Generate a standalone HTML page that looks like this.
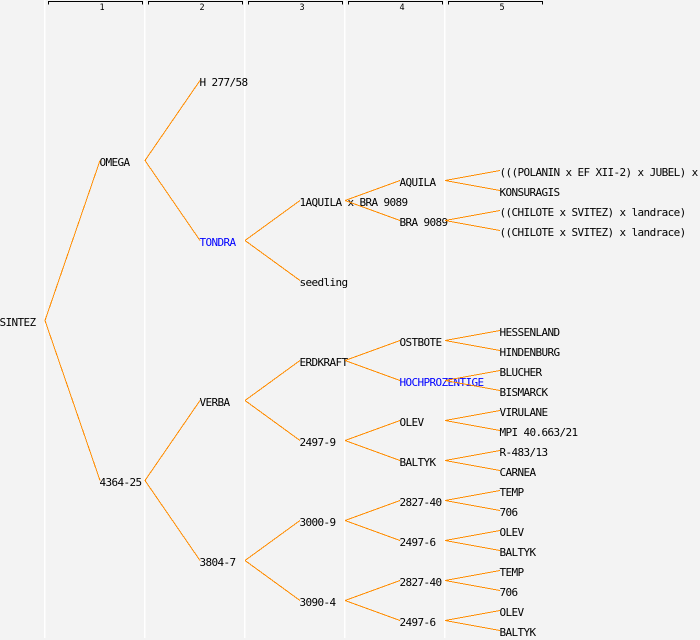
<!DOCTYPE html>
<html><head><meta charset="utf-8"><style>
html,body{margin:0;padding:0;background:#f3f3f3;}
svg{display:block;}
text{font-family:"DejaVu Sans Mono","Liberation Mono",monospace;font-size:11px;letter-spacing:-0.62px;fill:#000;}
.b{fill:#0000ff;}
.h{font-size:8.5px;letter-spacing:0;text-anchor:middle;}
</style></head><body>
<svg width="700" height="640" viewBox="0 0 700 640" xmlns="http://www.w3.org/2000/svg">
<rect width="700" height="640" fill="#f3f3f3"/>
<g fill="#ffffff">
<rect x="44" y="0" width="1.5" height="638"/>
<rect x="144" y="0" width="1.5" height="638"/>
<rect x="244" y="0" width="1.5" height="638"/>
<rect x="344" y="0" width="1.5" height="638"/>
<rect x="444" y="0" width="1.5" height="638"/>
</g>
<g fill="none" stroke="#000" stroke-width="1" shape-rendering="crispEdges">
<path d="M48.5,4.5V1.5H142.5V4.5"/>
<path d="M148.5,4.5V1.5H242.5V4.5"/>
<path d="M248.5,4.5V1.5H342.5V4.5"/>
<path d="M348.5,4.5V1.5H442.5V4.5"/>
<path d="M448.5,4.5V1.5H542.5V4.5"/>
</g>
<text class="h" x="102" y="10">1</text>
<text class="h" x="202" y="10">2</text>
<text class="h" x="302" y="10">3</text>
<text class="h" x="402" y="10">4</text>
<text class="h" x="502" y="10">5</text>

<text x="-0.5" y="326">SINTEZ</text>
<text x="99.5" y="166">OMEGA</text>
<text x="99.5" y="486">4364-25</text>
<text x="199.5" y="86">H 277/58</text>
<text x="199.5" y="246" class="b">TONDRA</text>
<text x="199.5" y="406">VERBA</text>
<text x="199.5" y="566">3804-7</text>
<text x="299.5" y="206">1AQUILA x BRA 9089</text>
<text x="299.5" y="286">seedling</text>
<text x="299.5" y="366">ERDKRAFT</text>
<text x="299.5" y="446">2497-9</text>
<text x="299.5" y="526">3000-9</text>
<text x="299.5" y="606">3090-4</text>
<text x="399.5" y="186">AQUILA</text>
<text x="399.5" y="226">BRA 9089</text>
<text x="399.5" y="346">OSTBOTE</text>
<text x="399.5" y="386" class="b">HOCHPROZENTIGE</text>
<text x="399.5" y="426">OLEV</text>
<text x="399.5" y="466">BALTYK</text>
<text x="399.5" y="506">2827-40</text>
<text x="399.5" y="546">2497-6</text>
<text x="399.5" y="586">2827-40</text>
<text x="399.5" y="626">2497-6</text>
<text x="499.5" y="176">(((POLANIN x EF XII-2) x JUBEL) x</text>
<text x="499.5" y="196">KONSURAGIS</text>
<text x="499.5" y="216">((CHILOTE x SVITEZ) x landrace)</text>
<text x="499.5" y="236">((CHILOTE x SVITEZ) x landrace)</text>
<text x="499.5" y="336">HESSENLAND</text>
<text x="499.5" y="356">HINDENBURG</text>
<text x="499.5" y="376">BLUCHER</text>
<text x="499.5" y="396">BISMARCK</text>
<text x="499.5" y="416">VIRULANE</text>
<text x="499.5" y="436">MPI 40.663/21</text>
<text x="499.5" y="456">R-483/13</text>
<text x="499.5" y="476">CARNEA</text>
<text x="499.5" y="496">TEMP</text>
<text x="499.5" y="516">706</text>
<text x="499.5" y="536">OLEV</text>
<text x="499.5" y="556">BALTYK</text>
<text x="499.5" y="576">TEMP</text>
<text x="499.5" y="596">706</text>
<text x="499.5" y="616">OLEV</text>
<text x="499.5" y="636">BALTYK</text>

<g fill="none" stroke="#ff8c00" stroke-width="1" shape-rendering="crispEdges">
<path d="M45,320.5L100,160.5M45,320.5L100,480.5"/>
<path d="M145,160.5L200,80.5M145,160.5L200,240.5"/>
<path d="M145,480.5L200,400.5M145,480.5L200,560.5"/>
<path d="M245,240.5L300,200.5M245,240.5L300,280.5"/>
<path d="M245,400.5L300,360.5M245,400.5L300,440.5"/>
<path d="M245,560.5L300,520.5M245,560.5L300,600.5"/>
<path d="M345,200.5L400,180.5M345,200.5L400,220.5"/>
<path d="M345,360.5L400,340.5M345,360.5L400,380.5"/>
<path d="M345,440.5L400,420.5M345,440.5L400,460.5"/>
<path d="M345,520.5L400,500.5M345,520.5L400,540.5"/>
<path d="M345,600.5L400,580.5M345,600.5L400,620.5"/>
<path d="M445,180.5L500,170.5M445,180.5L500,190.5"/>
<path d="M445,220.5L500,210.5M445,220.5L500,230.5"/>
<path d="M445,340.5L500,330.5M445,340.5L500,350.5"/>
<path d="M445,380.5L500,370.5M445,380.5L500,390.5"/>
<path d="M445,420.5L500,410.5M445,420.5L500,430.5"/>
<path d="M445,460.5L500,450.5M445,460.5L500,470.5"/>
<path d="M445,500.5L500,490.5M445,500.5L500,510.5"/>
<path d="M445,540.5L500,530.5M445,540.5L500,550.5"/>
<path d="M445,580.5L500,570.5M445,580.5L500,590.5"/>
<path d="M445,620.5L500,610.5M445,620.5L500,630.5"/>
</g>
</svg>
</body></html>
